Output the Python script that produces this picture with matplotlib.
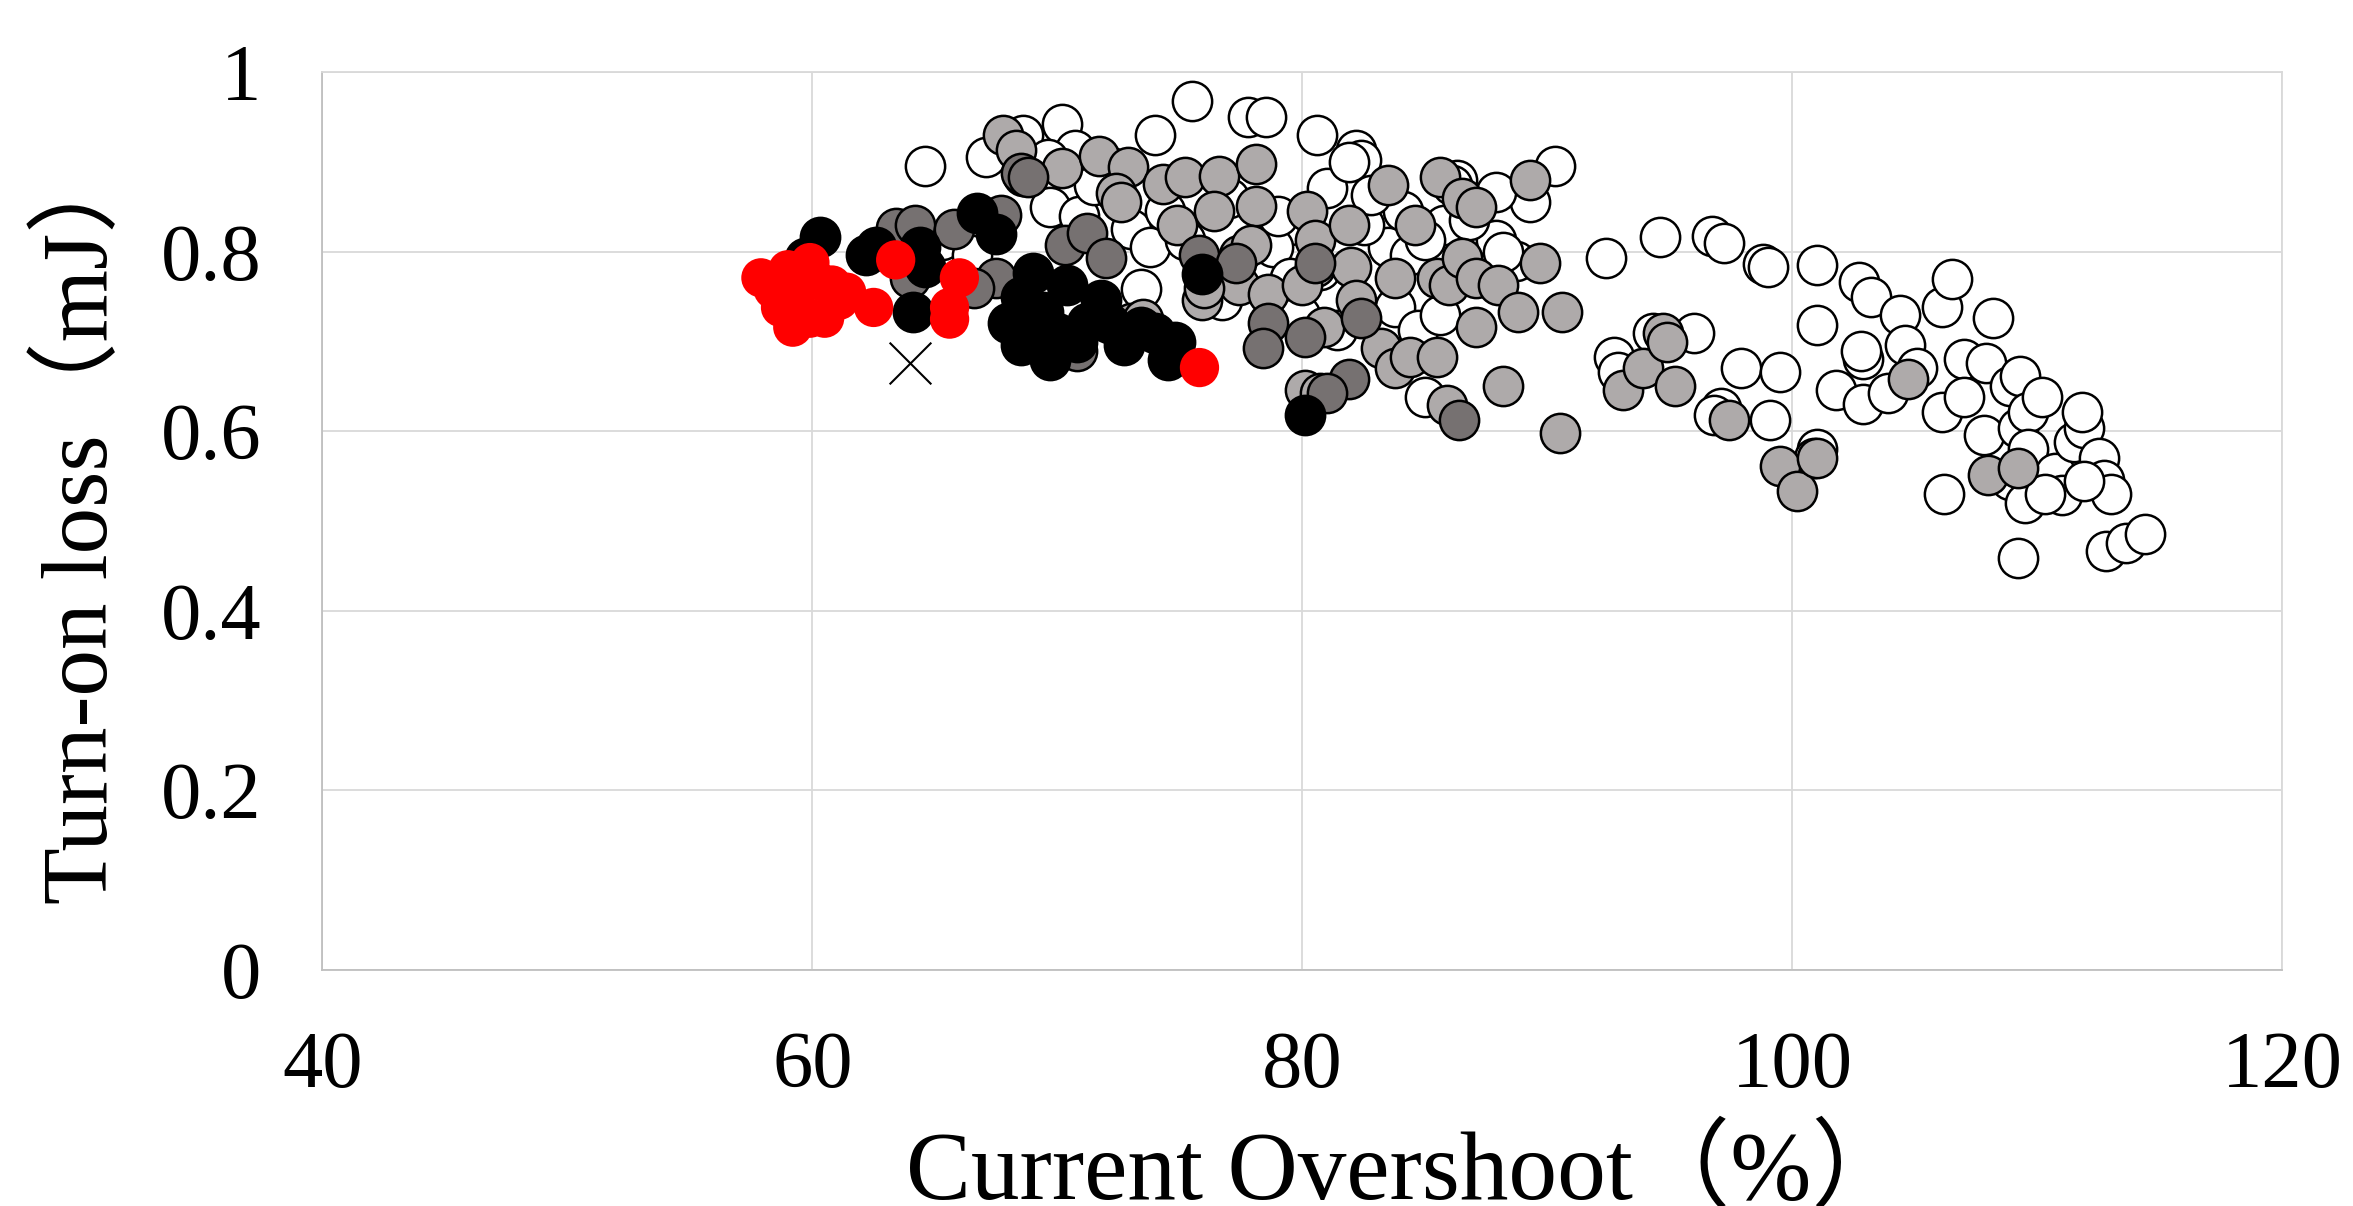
import matplotlib.pyplot as plt

plt.rcParams['font.family'] = ['Liberation Serif', 'Noto Sans CJK JP']

# series: current overshoot (%) and turn-on loss (mJ)
white_x = [64.6, 75.5, 70.2, 68.6, 77.8, 78.5, 80.6, 82.2, 82.4, 74.0, 70.7, 67.1, 69.6,
           72.2, 86.3, 86.1, 90.3, 89.3, 87.9, 85.8, 83.5, 84.1, 81.0, 80.7, 79.9, 81.4, 79.5,
           92.4, 94.6, 96.7, 97.2, 98.8, 99.0, 101.0, 92.7, 92.9, 94.3, 96.0, 97.9, 99.5,
           97.1, 96.8, 99.1, 101.0, 100.9, 101.0, 102.7, 103.2, 104.4, 104.6, 102.9, 102.8,
           101.8, 102.9, 103.9, 105.1, 106.1, 106.5, 106.1, 106.2, 107.0, 107.0, 107.9, 108.2,
           107.8, 108.9, 109.3, 109.2, 109.6, 110.2, 109.6, 108.9, 109.5, 110.7, 111.5, 111.9,
           111.8, 111.0, 112.5, 112.7, 113.0, 111.9, 110.3, 109.2, 112.8, 113.6, 114.4,
           65.3, 66.5, 69.7, 70.9, 73.0, 73.8, 74.4, 75.2, 76.7, 78.8, 79.5, 82.5, 82.8, 84.4,
           85.0, 87.9, 88.7, 83.8, 84.7, 85.6, 85.0, 73.4, 81.9, 71.5, 77.0, 79.0, 86.8, 88.2]
white_y = [0.896, 0.968, 0.942, 0.930, 0.950, 0.950, 0.930, 0.914, 0.902, 0.930, 0.914, 0.906,
           0.903, 0.895, 0.880, 0.875, 0.896, 0.855, 0.867, 0.830, 0.805, 0.846, 0.871, 0.780,
           0.730, 0.713, 0.830, 0.793, 0.816, 0.818, 0.810, 0.786, 0.783, 0.785, 0.683, 0.666,
           0.710, 0.710, 0.670, 0.666, 0.626, 0.618, 0.613, 0.580, 0.570, 0.718, 0.766, 0.750,
           0.730, 0.696, 0.680, 0.690, 0.646, 0.630, 0.643, 0.671, 0.739, 0.770, 0.621, 0.530,
           0.680, 0.638, 0.676, 0.726, 0.596, 0.650, 0.662, 0.604, 0.621, 0.638, 0.580, 0.546,
           0.520, 0.554, 0.588, 0.604, 0.621, 0.529, 0.570, 0.546, 0.530, 0.545, 0.530, 0.459,
           0.467, 0.476, 0.486,
           0.813, 0.796, 0.850, 0.840, 0.825, 0.805, 0.846, 0.813, 0.746, 0.805, 0.771, 0.830,
           0.863, 0.796, 0.813, 0.813, 0.790, 0.738, 0.713, 0.730, 0.638, 0.758, 0.900, 0.875,
           0.860, 0.840, 0.835, 0.800]

lgray_x = [67.8, 68.3, 68.6, 70.2, 71.7, 72.9, 72.4, 72.6, 74.3, 75.2, 76.6, 78.1, 74.9, 76.4,
           78.1, 77.4, 76.4, 77.4, 77.9, 78.6, 80.2, 80.5, 80.5, 80.0, 81.9, 82.0, 82.2, 83.5,
           84.6, 83.8, 85.6, 86.5, 87.1, 85.5, 86.0, 86.5, 87.1, 88.0, 89.3, 89.7, 88.8, 90.6,
           88.2, 90.5, 83.2, 83.8, 84.4, 85.5, 85.9, 87.1, 93.1, 93.9, 94.7, 94.9, 95.2, 97.4,
           99.5, 100.2, 101.0, 104.7, 108.0, 109.2, 73.0, 75.9, 80.9, 80.1, 80.7, 76.0, 73.5]
lgray_y = [0.930, 0.913, 0.885, 0.893, 0.907, 0.895, 0.866, 0.855, 0.876, 0.883, 0.885, 0.898,
           0.830, 0.846, 0.851, 0.796, 0.770, 0.763, 0.808, 0.753, 0.846, 0.813, 0.783, 0.763,
           0.830, 0.783, 0.746, 0.875, 0.830, 0.771, 0.883, 0.860, 0.850, 0.771, 0.763, 0.793,
           0.771, 0.763, 0.880, 0.788, 0.733, 0.733, 0.651, 0.598, 0.693, 0.671, 0.683, 0.683,
           0.629, 0.716, 0.646, 0.671, 0.710, 0.700, 0.650, 0.613, 0.561, 0.533, 0.570, 0.658,
           0.551, 0.559, 0.721, 0.746, 0.716, 0.646, 0.643, 0.760, 0.725]

dgray_x = [68.5, 68.8, 63.4, 64.2, 65.8, 67.7, 67.5, 70.3, 71.2, 72.0, 64.0, 75.8, 77.3, 80.5,
           82.4, 78.6, 78.4, 80.1, 81.9, 86.4, 81.0, 70.8, 66.6]
dgray_y = [0.888, 0.883, 0.826, 0.830, 0.825, 0.841, 0.771, 0.808, 0.821, 0.793, 0.771, 0.796,
           0.788, 0.788, 0.726, 0.721, 0.693, 0.705, 0.658, 0.613, 0.643, 0.690, 0.760]

black_x = [60.3, 59.7, 62.2, 62.6, 64.4, 64.6, 64.1, 66.7, 67.5, 75.9, 68.0, 69.0, 68.5, 69.4,
           68.5, 69.7, 70.8, 70.4, 71.8, 72.1, 72.7, 73.4, 74.0, 74.5, 74.8, 71.2, 70.0, 69.0,
           69.1, 80.1]
black_y = [0.816, 0.793, 0.796, 0.805, 0.805, 0.783, 0.733, 0.843, 0.820, 0.775, 0.721, 0.776,
           0.750, 0.733, 0.696, 0.679, 0.700, 0.763, 0.746, 0.721, 0.696, 0.716, 0.710, 0.679,
           0.699, 0.721, 0.710, 0.718, 0.700, 0.618]

red_x = [57.9, 58.4, 59.0, 59.4, 59.9, 60.2, 59.2, 59.9, 60.5, 61.1, 61.4, 62.5, 63.4, 65.6,
         65.6, 66.0, 75.8, 58.7, 60.8]
red_y = [0.771, 0.758, 0.780, 0.763, 0.788, 0.768, 0.716, 0.726, 0.726, 0.746, 0.755, 0.738,
         0.791, 0.738, 0.725, 0.771, 0.671, 0.738, 0.763]

cross_x = [64.0]
cross_y = [0.676]

fig = plt.figure(figsize=(23.53, 12.06), dpi=100)
ax = fig.add_axes([0.137, 0.196, 0.833, 0.744])

size = 800
ax.scatter(white_x, white_y, s=size, c='white', edgecolors='black', linewidths=1.8, zorder=3)
ax.scatter(lgray_x, lgray_y, s=size, c='#aeaaaa', edgecolors='black', linewidths=1.8, zorder=4)
ax.scatter(dgray_x, dgray_y, s=size, c='#767171', edgecolors='black', linewidths=1.8, zorder=5)
ax.scatter(black_x, black_y, s=size, c='black', edgecolors='black', linewidths=1.8, zorder=6)
ax.scatter(red_x, red_y, s=size, c='#ff0000', edgecolors='none', zorder=7)
ax.scatter(cross_x, cross_y, s=900, marker='x', c='black', linewidths=1.5, zorder=8)

ax.set_xlim(40, 120)
ax.set_ylim(0, 1)
ax.set_xticks([40, 60, 80, 100, 120])
ax.set_yticks([0, 0.2, 0.4, 0.6, 0.8, 1])
ax.set_yticklabels(['0', '0.2', '0.4', '0.6', '0.8', '1'])
ax.tick_params(axis='both', length=0, labelsize=58, pad=44)

ax.grid(True, color='#d9d9d9', linewidth=1.3, zorder=0)
ax.set_axisbelow(True)
for sp in ax.spines.values():
    sp.set_color('#d9d9d9')
    sp.set_linewidth(1.3)
ax.spines['left'].set_color('#bfbfbf')
ax.spines['bottom'].set_color('#bfbfbf')

# axis titles placed like the original (x title runs into the bottom edge)
fig.text(0.385, 0.006, 'Current Overshoot（%）', fontsize=70, ha='left', va='baseline')
fig.text(0.0455, 0.25, 'Turn-on loss（mJ）', fontsize=67, rotation=90,
         rotation_mode='anchor', ha='left', va='baseline')

fig.savefig('out.png', dpi=100)
